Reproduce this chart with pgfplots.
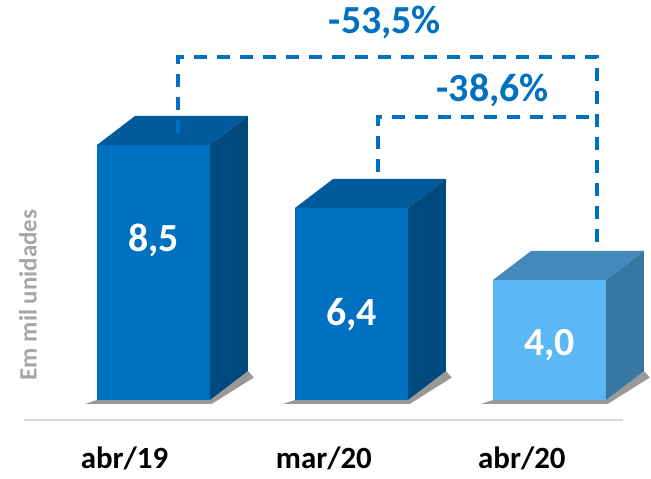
\documentclass[border=0pt]{standalone}
\usepackage{pgfplots}
\pgfplotsset{compat=1.18}
\usepackage{fontspec}
\setmainfont{Carlito}
\definecolor{frente}{HTML}{0070C0}
\definecolor{topo}{HTML}{005A9C}
\definecolor{lado}{HTML}{004A80}
\definecolor{frenteclaro}{HTML}{5BB8F4}
\definecolor{topoclaro}{HTML}{4389BB}
\definecolor{ladoclaro}{HTML}{3777A3}
\definecolor{cinza}{HTML}{A6A6A6}
\definecolor{linha}{HTML}{D9D9D9}

\begin{document}
\begin{tikzpicture}
\begin{axis}[
    x=198bp, y=30bp,
    xmin=-0.775, xmax=2.513,
    ymin=-2.633, ymax=13.333,
    hide axis,
    clip=false,
]
% base line
\addplot[linha, line width=2.5bp] coordinates {(-0.654,-0.667) (2.371,-0.667)};

% shadows
\addplot[fill=black, opacity=0.4, draw=none] coordinates {(-0.345,-0.13) (0.295,-0.13) (0.507,0.75) (0.477,0.967) (-0.285,0)} -- cycle;
\addplot[fill=black, opacity=0.4, draw=none] coordinates {(0.655,-0.13) (1.295,-0.13) (1.507,0.75) (1.477,0.967) (0.715,0)} -- cycle;
\addplot[fill=black, opacity=0.4, draw=none] coordinates {(1.655,-0.13) (2.295,-0.13) (2.507,0.75) (2.477,0.967) (1.715,0)} -- cycle;

% front faces (values)
\addplot[ybar, bar width=0.57, bar shift=0, fill=frente, draw=none] coordinates {(0,8.5) (1,6.4)};
\addplot[ybar, bar width=0.57, bar shift=0, fill=frenteclaro, draw=none] coordinates {(2,4.0)};

% top faces
\addplot[fill=topo, draw=none] coordinates {(-0.285,8.5) (-0.093,9.467) (0.477,9.467) (0.285,8.5)} -- cycle;
\addplot[fill=topo, draw=none] coordinates {(0.715,6.4) (0.907,7.367) (1.477,7.367) (1.285,6.4)} -- cycle;
\addplot[fill=topoclaro, draw=none] coordinates {(1.715,4.0) (1.907,4.967) (2.477,4.967) (2.285,4.0)} -- cycle;

% side faces
\addplot[fill=lado, draw=none] coordinates {(0.285,8.5) (0.477,9.467) (0.477,0.967) (0.285,0)} -- cycle;
\addplot[fill=lado, draw=none] coordinates {(1.285,6.4) (1.477,7.367) (1.477,0.967) (1.285,0)} -- cycle;
\addplot[fill=ladoclaro, draw=none] coordinates {(2.285,4.0) (2.477,4.967) (2.477,0.967) (2.285,0)} -- cycle;

% brackets
\addplot[frente, line width=3.5bp, dash pattern=on 13bp off 10bp] coordinates {(0.124,8.9) (0.124,11.43) (2.24,11.43) (2.24,5.17)};
\addplot[frente, line width=3.5bp, dash pattern=on 13bp off 10bp] coordinates {(1.134,7.6) (1.134,9.43) (2.24,9.43)};

% labels
\node[text=frente, font=\fontsize{40}{44}\selectfont\bfseries] at (axis cs:1.169,12.6) {-53,5\%};
\node[text=frente, font=\fontsize{40}{44}\selectfont\bfseries] at (axis cs:1.714,10.33) {-38,6\%};

\node[text=white, font=\fontsize{40}{44}\selectfont\bfseries] at (axis cs:0,5.33) {8,5};
\node[text=white, font=\fontsize{40}{44}\selectfont\bfseries] at (axis cs:1,2.83) {6,4};
\node[text=white, font=\fontsize{40}{44}\selectfont\bfseries] at (axis cs:2,1.83) {4,0};

\node[inner sep=0pt, font=\fontsize{31}{34}\selectfont\bfseries] at (axis cs:-0.146,-1.95) {abr/19};
\node[inner sep=0pt, font=\fontsize{31}{34}\selectfont\bfseries] at (axis cs:0.861,-1.95) {mar/20};
\node[inner sep=0pt, font=\fontsize{31}{34}\selectfont\bfseries] at (axis cs:1.861,-1.95) {abr/20};

\node[rotate=90, text=cinza, font=\fontsize{25}{28}\selectfont\bfseries] at (axis cs:-0.634,3.5) {Em mil unidades};
\end{axis}
\pgfresetboundingbox
\path (current axis.south west) rectangle (current axis.north east);
\end{tikzpicture}
\end{document}
